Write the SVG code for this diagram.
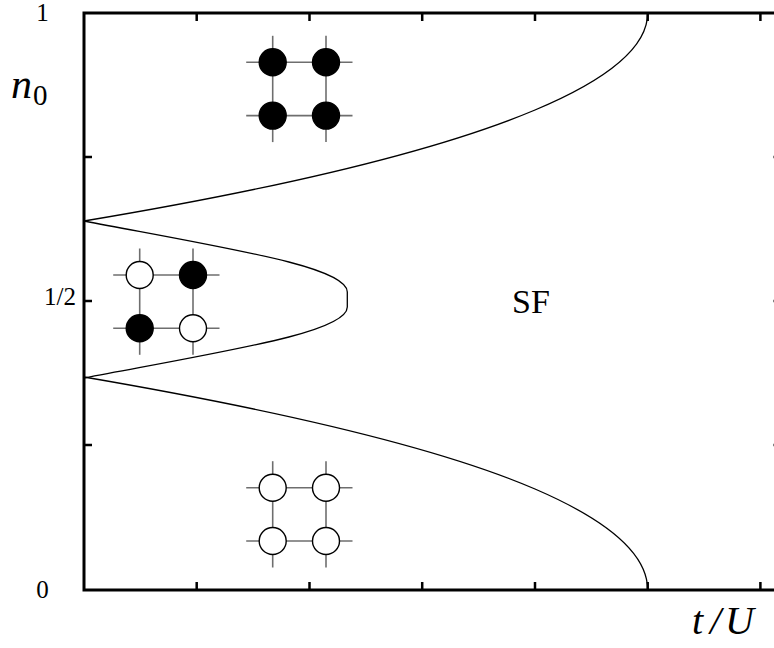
<svg xmlns="http://www.w3.org/2000/svg" xmlns:xlink="http://www.w3.org/1999/xlink" width="774" height="648" viewBox="0 0 774 648">
<style>
.axis{stroke:#000;stroke-width:3;fill:none}
.tick{stroke:#000;stroke-width:2.5;fill:none}
.curve{stroke:#000;stroke-width:1.3;fill:none}
.gl{stroke:#6e6e6e;stroke-width:1.6;fill:none}
.w{fill:#fff;stroke:#000;stroke-width:1.4}
.b{fill:#000;stroke:#000;stroke-width:1.4}
.lab{font-family:"Liberation Serif","DejaVu Serif",serif;fill:#000}
.it{font-style:italic}
</style>
<defs>
<g id="grid">
<line class="gl" x1="-26.5" y1="0" x2="79.8" y2="0"/>
<line class="gl" x1="-26.5" y1="53.3" x2="79.8" y2="53.3"/>
<line class="gl" x1="0" y1="-26.5" x2="0" y2="79.8"/>
<line class="gl" x1="53.3" y1="-26.5" x2="53.3" y2="79.8"/>
</g>
</defs>
<rect width="774" height="648" fill="#fff"/>
<g id="frame">
<path class="axis" d="M84,591.5 V13 H782 M84,590 H782"/>
<path class="tick" d="M196.7,590 v-8 M309.5,590 v-8 M422.2,590 v-8 M535,590 v-8 M647.7,590 v-8 M760.4,590 v-8 M196.7,13 v8 M309.5,13 v8 M422.2,13 v8 M535,13 v8 M647.7,13 v8 M760.4,13 v8 M84,157 h8 M84,301 h8 M84,445 h8"/>
<path class="tick" stroke-width="2" d="M782,157 h-8.5 M782,301 h-8.5 M782,445 h-8.5"/>
</g>
<g id="labels" class="lab">
<text x="42.5" y="20.5" font-size="25" text-anchor="middle">1</text>
<text x="42.5" y="598" font-size="25" text-anchor="middle">0</text>
<text x="76" y="305" font-size="25" text-anchor="end">1/2</text>
<text x="11" y="98" font-size="42" class="it">n</text>
<text x="33" y="105" font-size="29">0</text>
<text y="634" font-size="40" class="it"><tspan x="692">t</tspan><tspan x="710">/</tspan><tspan x="725">U</tspan></text>
<text x="512" y="313" font-size="34">SF</text>
</g>
<g id="connectors">
<path id="upper-boundary" class="curve" d="M647.7,13 C647.7,45.3 611.9,77.7 535,110 C446.9,147 305.3,184 84,221"/>
<path id="lobe-boundary" class="curve" d="M84,221 C234,249.5 347.3,267 347.3,292 L347.3,307 C347.3,332 234,349.5 84,378"/>
<path id="lower-boundary" class="curve" d="M647.7,590 C647.7,556.3 613.2,522.7 535,489 C448.5,451.7 301.8,414.3 84,377"/>
</g>
<g id="node-full" transform="translate(272.7,62.3)">
<use xlink:href="#grid" href="#grid"/>
<circle class="b" cx="0" cy="0" r="13.5"/>
<circle class="b" cx="53.3" cy="0" r="13.5"/>
<circle class="b" cx="0" cy="53.3" r="13.5"/>
<circle class="b" cx="53.3" cy="53.3" r="13.5"/>
</g>
<g id="node-checkerboard" transform="translate(139.7,275)">
<use xlink:href="#grid" href="#grid"/>
<circle class="w" cx="0" cy="0" r="13.5"/>
<circle class="b" cx="53.3" cy="0" r="13.5"/>
<circle class="b" cx="0" cy="53.3" r="13.5"/>
<circle class="w" cx="53.3" cy="53.3" r="13.5"/>
</g>
<g id="node-empty" transform="translate(272.7,487.7)">
<use xlink:href="#grid" href="#grid"/>
<circle class="w" cx="0" cy="0" r="13.5"/>
<circle class="w" cx="53.3" cy="0" r="13.5"/>
<circle class="w" cx="0" cy="53.3" r="13.5"/>
<circle class="w" cx="53.3" cy="53.3" r="13.5"/>
</g>
</svg>
